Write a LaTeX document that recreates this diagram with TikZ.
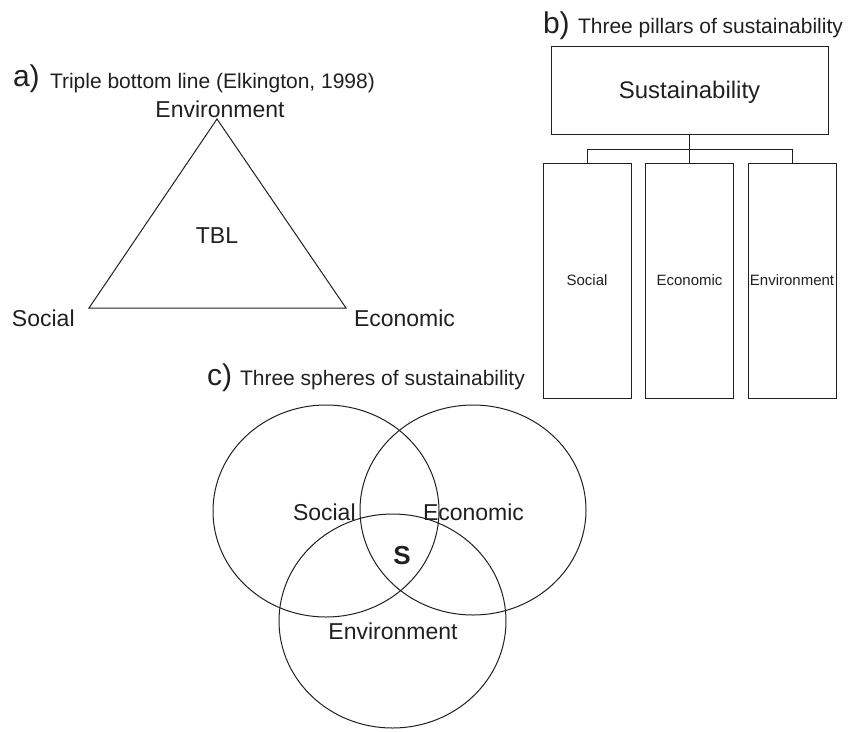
\documentclass[tikz,border=0pt]{standalone}
\usepackage{fontspec}
\setmainfont{Liberation Sans}
\usetikzlibrary{shapes.geometric}
\definecolor{ink}{HTML}{231F20}
\begin{document}
\begin{tikzpicture}[x=1pt,y=-1pt,
  every node/.style={inner sep=0pt, outer sep=0pt, text=ink},
  line/.style={draw=ink, line width=1pt},
  panel/.style={font=\fontsize{30}{34}\selectfont, anchor=base west},
  ptitle/.style={font=\fontsize{21}{25}\selectfont, anchor=base west},
  lab/.style={font=\fontsize{23}{27}\selectfont, anchor=base},
  labw/.style={font=\fontsize{23}{27}\selectfont, anchor=base west},
  pillar/.style={line, rectangle, minimum width=88, minimum height=235, font=\fontsize{15}{18}\selectfont},
  sphere/.style={line, ellipse, minimum width=226, minimum height=212}
]
\useasboundingbox (0,0) rectangle (850,731);

% ---------- a) Triple bottom line ----------
\node[panel] (alab) at (13,86) {a)};
\node[ptitle] (atitle) at (50,88) {Triple bottom line (Elkington, 1998)};
\coordinate (tA) at (217,119);
\coordinate (tL) at (89,308);
\coordinate (tR) at (346,308);
\draw[line, line join=miter] (tA) -- (tL) -- (tR) -- cycle;
\node[lab] (aenv) at (220,117) {Environment};
\node[lab] (tbl) at (217,243) {TBL};
\node[labw] (asoc) at (12,326) {Social};
\node[labw] (aeco) at (354,326) {Economic};

% ---------- b) Three pillars ----------
\node[panel] (blab) at (543,33) {b)};
\node[ptitle] (btitle) at (578,33) {Three pillars of sustainability};
\node[line, rectangle, minimum width=277, minimum height=88, text depth=0pt,
      font=\fontsize{24}{28}\selectfont] (sus) at (689.5,90) {Sustainability};
\node[pillar] (p1) at (587,280.5) {Social};
\node[pillar] (p2) at (689.5,280.5) {Economic};
\node[pillar] (p3) at (792,280.5) {Environment};
\coordinate (bus) at (0,149);
\draw[line] (sus.south) -- (sus.south |- bus);
\draw[line] (p1.north) -- (p1.north |- bus) -- (p3.north |- bus) -- (p3.north);
\draw[line] (p2.north) -- (p2.north |- bus);

% ---------- c) Three spheres ----------
\node[panel] (clab) at (207,385) {c)};
\node[ptitle] (ctitle) at (240,385) {Three spheres of sustainability};
\node[sphere] (csoc) at (326,511) {};
\node[sphere, minimum height=210] (ceco) at (473,510) {};
\node[sphere, minimum width=227, minimum height=214] (cenv) at (392.5,621) {};
\node[labw] (tsoc) at (293,520) {Social};
\node[labw] (teco) at (423,520) {Economic};
\node[font=\fontsize{26}{30}\selectfont\bfseries, anchor=base] (ts) at (402,564) {S};
\node[lab] (tenv) at (393,639) {Environment};
\end{tikzpicture}
\end{document}
